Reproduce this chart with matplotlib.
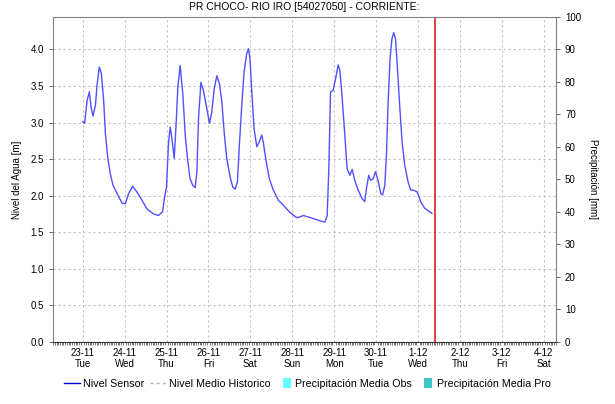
import datetime as dt
import matplotlib
matplotlib.use("Agg")
import matplotlib.pyplot as plt
import matplotlib.dates as mdates
from matplotlib.lines import Line2D
from matplotlib.patches import Patch, Rectangle
from matplotlib.legend_handler import HandlerPatch

plt.rcParams['font.family'] = ['Liberation Sans', 'DejaVu Sans']

# Data: hours after 23-11-2021 00:00 and water level [m]
start = dt.datetime(2021, 11, 23)
hours = [0, 1.1, 2.5, 3.8, 4.8, 5.9, 7.3, 8.2, 9.5, 10.7, 12.0, 13.0, 14.3, 15.8,
         17.4, 19.7, 22.5, 24.4, 26.3, 28.6, 31.1, 33.9, 36.8, 40.6, 43.4, 45.7,
         46.9, 48.0, 49.1, 50.1, 51.1, 52.4, 53.4, 54.5, 55.8, 57.4, 58.7, 60.0,
         61.5, 63.1, 64.4, 65.4, 66.3, 67.7, 69.1, 70.7, 72.6, 73.9, 75.3, 76.8,
         78.3, 79.7, 81.0, 82.5, 84.4, 85.9, 87.3, 88.6, 89.7, 91.1, 92.4, 93.9,
         94.9, 95.8, 96.8, 98.1, 99.7, 101.0, 102.5, 103.4, 105.0, 106.9, 109.1,
         112.0, 114.9, 118.3, 122.5, 124.4, 126.3, 129.1, 133.0, 136.8, 138.7,
         140.0, 141.0, 141.9, 143.4, 144.8, 146.3, 147.3, 148.6, 150.1, 151.4,
         153.0, 154.3, 155.8, 157.7, 160.0, 161.5, 162.5, 163.8, 164.9, 166.3,
         167.7, 169.1, 170.7, 171.7, 173.0, 174.0, 174.9, 176.0, 177.1, 178.1,
         179.1, 180.0, 181.5, 182.9, 184.4, 186.3, 187.8, 190.1, 191.6, 193.5,
         195.8, 198.1, 200.0]
nivel = [3.01, 2.99, 3.30, 3.42, 3.21, 3.09, 3.24, 3.51, 3.76, 3.67, 3.30, 2.85,
         2.53, 2.30, 2.14, 2.03, 1.90, 1.89, 2.03, 2.13, 2.05, 1.94, 1.82, 1.75,
         1.73, 1.78, 1.98, 2.12, 2.71, 2.94, 2.78, 2.51, 2.94, 3.49, 3.78, 3.37,
         2.83, 2.51, 2.23, 2.14, 2.11, 2.33, 3.05, 3.55, 3.44, 3.24, 2.99, 3.14,
         3.46, 3.64, 3.53, 3.28, 2.87, 2.51, 2.26, 2.12, 2.09, 2.19, 2.69, 3.24,
         3.69, 3.94, 4.01, 3.87, 3.44, 2.92, 2.67, 2.73, 2.83, 2.73, 2.48, 2.23,
         2.08, 1.94, 1.87, 1.78, 1.70, 1.71, 1.73, 1.71, 1.68, 1.65, 1.64, 1.73,
         2.42, 3.42, 3.44, 3.60, 3.79, 3.71, 3.33, 2.83, 2.37, 2.28, 2.36, 2.21,
         2.08, 1.96, 1.92, 2.10, 2.28, 2.21, 2.23, 2.33, 2.21, 2.03, 2.01, 2.14,
         2.60, 3.28, 3.87, 4.15, 4.23, 4.15, 3.83, 3.24, 2.73, 2.42, 2.19, 2.08,
         2.07, 2.05, 1.92, 1.83, 1.79, 1.76]
now_hours = 201.6
tick_labels = ['23-11\nTue', '24-11\nWed', '25-11\nThu', '26-11\nFri',
               '27-11\nSat', '28-11\nSun', '29-11\nMon', '30-11\nTue',
               '1-12\nWed', '2-12\nThu', '3-12\nFri', '4-12\nSat']

times = [start + dt.timedelta(hours=h) for h in hours]
ticks = [start + dt.timedelta(days=i) for i in range(len(tick_labels))]

fig = plt.figure(figsize=(6.15, 4.04), dpi=100)
ax = fig.add_axes([0.0862, 0.1535, 0.8178, 0.8045])

ax.plot(times, nivel, color='#5050ff', lw=1.0)
ax.axvline(start + dt.timedelta(hours=now_hours), color='#e02020', lw=1.2)

ax.set_xlim(start - dt.timedelta(hours=17), start + dt.timedelta(days=11, hours=7))
ax.set_ylim(0, 40 / 9)
ax.set_yticks([0, 0.5, 1, 1.5, 2, 2.5, 3, 3.5, 4])
ax.set_yticklabels(['0.0', '0.5', '1.0', '1.5', '2.0', '2.5', '3.0', '3.5', '4.0'])
ax.set_xticks(ticks)
ax.set_xticklabels(tick_labels)
ax.xaxis.set_minor_locator(mdates.HourLocator())
ax.tick_params(axis='x', which='major', length=0, labelsize=7, pad=4)
ax.tick_params(axis='x', which='minor', length=2, width=0.5, color='#444444')
ax.tick_params(axis='y', length=3, width=0.7, labelsize=7, color='#666666')
ax.grid(True, color='#c0c0c0', ls=(0, (2, 2.5)), lw=0.8)
for s in ax.spines.values():
    s.set_color('#808080')
    s.set_linewidth(0.8)
ax.spines['bottom'].set_color('#333333')
ax.set_ylabel('Nivel del Agua [m]', fontsize=7, labelpad=6)
ax.set_title('PR CHOCO- RIO IRO [54027050] - CORRIENTE:', fontsize=7.5, pad=5)

ax2 = ax.twinx()
ax2.set_ylim(0, 100)
ax2.set_yticks(range(0, 101, 10))
ax2.tick_params(axis='y', length=3, width=0.7, labelsize=7, color='#666666')
for s in ax2.spines.values():
    s.set_visible(False)
ax2.set_ylabel('Precipitación [mm]', fontsize=7, rotation=270, labelpad=12)


def narrow_box(legend, orig_handle, xdescent, ydescent, width, height, fontsize):
    return Rectangle((-xdescent + width - 7, -ydescent - 1), 6, height + 2)


handles = [Line2D([], [], color='#0000cc', lw=1.0),
           Line2D([], [], color='#b0b0b0', lw=1.0, ls=(0, (2, 2.5))),
           Patch(facecolor='#66ffff', edgecolor='none'),
           Patch(facecolor='#3fc6c6', edgecolor='none')]
names = ['Nivel Sensor', 'Nivel Medio Historico', 'Precipitación Media Obs',
         'Precipitación Media Pro']
fig.legend(handles, names, loc='center', bbox_to_anchor=(0.5, 0.05), ncol=4,
           frameon=False, fontsize=7.7, handlelength=1.5, handletextpad=0.3,
           columnspacing=0.5,
           handler_map={Patch: HandlerPatch(patch_func=narrow_box)})

fig.savefig('out.png', dpi=100)
